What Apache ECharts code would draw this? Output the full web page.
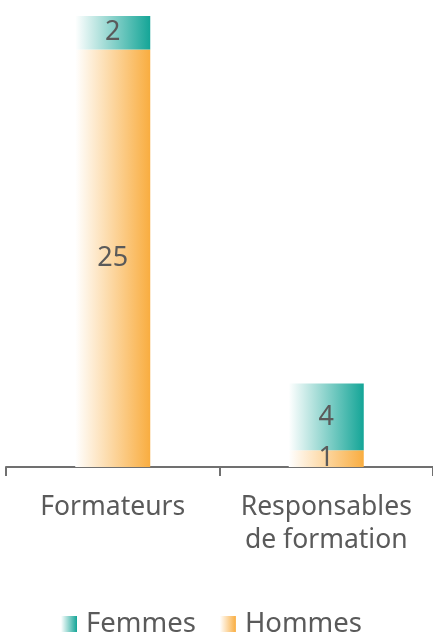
<!DOCTYPE html>
<html>
<head>
<meta charset="utf-8">
<script src="https://cdn.jsdelivr.net/npm/echarts@6/dist/echarts.min.js"></script>
<style>
html,body{margin:0;padding:0;background:#fff;}
#c{width:433px;height:634px;}
</style>
</head>
<body>
<div id="c"></div>
<script>
const categories = ['Formateurs', 'Responsables\nde formation'];
const hommes = [25, 1];
const femmes = [2, 4];
const seriesNames = ['Femmes', 'Hommes'];

const FONT = 'Noto Sans';
const TEXT = '#5a5a5a';
function grad(c) {
  return new echarts.graphic.LinearGradient(0, 0, 1, 0, [
    { offset: 0, color: 'rgba(255,255,255,1)' },
    { offset: 1, color: c }
  ]);
}
const labelStyle = { show: true, position: 'inside', fontSize: 27, color: TEXT, fontFamily: FONT };

const chart = echarts.init(document.getElementById('c'));
chart.setOption({
  animation: false,
  grid: { left: 6, right: 0, top: 16, bottom: 167 },
  legend: {
    top: 605, left: 56,
    data: seriesNames,
    icon: 'rect',
    itemWidth: 16, itemHeight: 16, itemGap: 24,
    textStyle: { fontSize: 27.5, color: TEXT, fontFamily: FONT, padding: [0, 0, 0, 4] }
  },
  xAxis: {
    type: 'category', data: categories,
    axisLine: { lineStyle: { color: '#707070', width: 2 } },
    axisTick: { show: true, interval: 0, length: 9, lineStyle: { color: '#707070', width: 2 } },
    axisLabel: { interval: 0, hideOverlap: false, fontSize: 26.5, color: TEXT, fontFamily: FONT, lineHeight: 33, margin: 24 }
  },
  yAxis: { type: 'value', min: 0, max: 27, show: false, splitLine: { show: false } },
  series: [
    { name: 'Hommes', type: 'bar', stack: 't', data: hommes, barWidth: 75,
      itemStyle: { color: grad('#f9ad40') }, label: labelStyle },
    { name: 'Femmes', type: 'bar', stack: 't', data: femmes, barWidth: 75,
      itemStyle: { color: grad('#14a597') }, label: labelStyle }
  ]
});
</script>
</body>
</html>
